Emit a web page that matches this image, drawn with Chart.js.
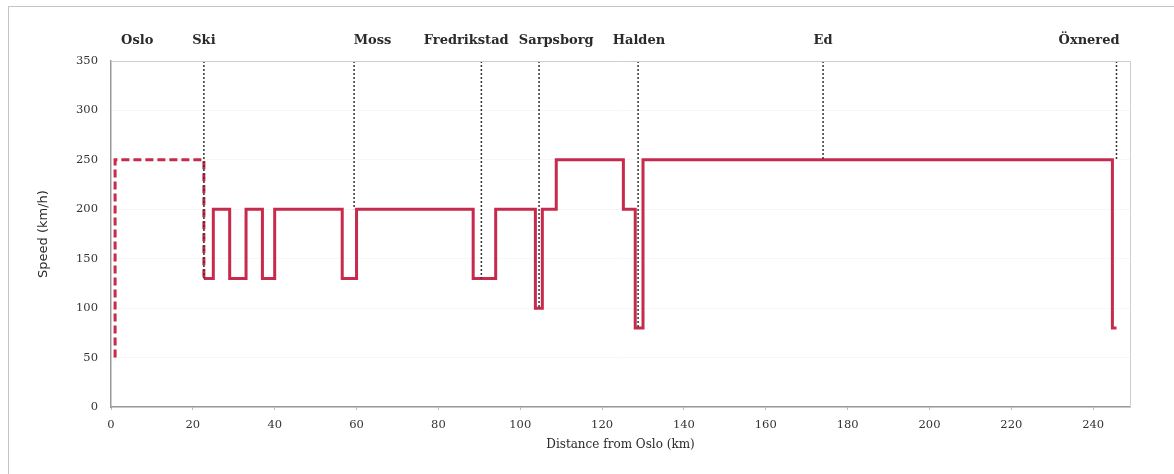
<!DOCTYPE html>
<html>
<head>
<meta charset="utf-8">
<script src="https://cdn.jsdelivr.net/npm/chart.js@4/dist/chart.umd.min.js"></script>
<style>
  html, body { margin: 0; padding: 0; background: #fff; }
  #wrap { position: relative; width: 1174px; height: 474px; overflow: hidden; }
  #frame { position: absolute; left: 8px; top: 6px; width: 1200px; height: 500px;
           border-left: 1px solid #c4c4c4; border-top: 1px solid #c4c4c4; }
  canvas { position: absolute; left: 0; top: 0; }
</style>
</head>
<body>
<div id="wrap">
  <div id="frame"></div>
  <canvas id="ctx" width="1174" height="474"></canvas>
</div>
<script>
"use strict";
// dashed approach out of Oslo (km, speed from that point)
const approachKm = [1, 1, 22.7];
const approachSpeed = [50, 250, 130];

// speed profile, each speed holds until the next km mark
const profileKm = [22.7, 25, 29, 33, 37, 40, 56.5, 60, 88.5, 94, 103.7, 105.4, 108.8, 125.2, 128.1, 130, 244.7, 245.7];
const profileSpeed = [130, 200, 130, 200, 130, 200, 130, 200, 130, 200, 100, 200, 250, 200, 80, 250, 80, 80];

// stations
const stationNames = ["Oslo", "Ski", "Moss", "Fredrikstad", "Sarpsborg", "Halden", "Ed", "Öxnered"];
const stationKm = [null, 22.7, 59.4, 90.5, 104.6, 128.8, 174, 245.7];
const stationLineEnd = [null, 130, 200, 130, 100, 80, 250, 250];
const labelKm = [6.4, 22.7, 63.9, 86.8, 108.8, 129, 174, 239];

const yTicks = [0, 50, 100, 150, 200, 250, 300, 350];
const xTicks = [0, 20, 40, 60, 80, 100, 120, 140, 160, 180, 200, 220, 240];

const red = "#c62a4c";
const serif = "'DejaVu Serif', 'Liberation Serif', serif";

let datasets = [];
datasets.push({
  data: approachKm.map((km, i) => ({ x: km, y: approachSpeed[i] })),
  borderColor: red,
  borderWidth: 3,
  borderDash: [8, 4],
  stepped: true,
  showLine: true,
  pointRadius: 0,
  order: 2,
});
datasets.push({
  data: profileKm.map((km, i) => ({ x: km, y: profileSpeed[i] })),
  borderColor: red,
  borderWidth: 3,
  stepped: true,
  showLine: true,
  pointRadius: 0,
  order: 2,
});
stationKm.forEach((km, i) => {
  if (km == null) return;
  datasets.push({
    data: [{ x: km, y: 350 }, { x: km, y: stationLineEnd[i] }],
    borderColor: "#333",
    borderWidth: 1.5,
    borderDash: [2, 2],
    showLine: true,
    pointRadius: 0,
    order: 1,
  });
});

const stationLabels = {
  id: "stationLabels",
  afterDraw(chart) {
    const c = chart.ctx;
    const xs = chart.scales.x;
    c.save();
    // plot box top and right edges
    const a = chart.chartArea;
    c.strokeStyle = "#cfcfcf";
    c.lineWidth = 1;
    c.beginPath();
    c.moveTo(a.left, a.top + 0.5);
    c.lineTo(a.right + 0.5, a.top + 0.5);
    c.lineTo(a.right + 0.5, a.bottom);
    c.stroke();
    c.fillStyle = "#2a2a2a";
    c.font = "bold 13px " + serif;
    c.textAlign = "center";
    c.textBaseline = "middle";
    stationNames.forEach((name, i) => {
      c.fillText(name, xs.getPixelForValue(labelKm[i]), 41);
    });
    c.restore();
  },
};

const ctx = document.getElementById("ctx").getContext("2d");
const myChart = new Chart(ctx, {
  type: "scatter",
  data: { datasets: datasets },
  plugins: [stationLabels],
  options: {
    responsive: false,
    animation: false,
    layout: { padding: { top: 61, right: 44, left: 0, bottom: 18 } },
    plugins: { legend: { display: false }, tooltip: { enabled: false } },
    scales: {
      x: {
        type: "linear",
        min: 0,
        max: 249,
        afterBuildTicks: (s) => { s.ticks = xTicks.map((v) => ({ value: v })); },
        afterFit: (s) => { s.height = 49; },
        border: { color: "#9a9a9a", width: 1.5 },
        grid: { drawOnChartArea: false, drawTicks: true, tickLength: 3, color: "#bbb" },
        ticks: { color: "#333", font: { family: serif, size: 11.5 }, padding: 8 },
        title: {
          display: true,
          text: "Distance from Oslo (km)",
          color: "#2a2a2a",
          font: { family: serif, size: 12 },
          padding: { top: 2 },
        },
      },
      y: {
        min: 0,
        max: 350,
        afterBuildTicks: (s) => { s.ticks = yTicks.map((v) => ({ value: v })); },
        afterFit: (s) => { s.width = 111; },
        border: { color: "#9a9a9a", width: 1.5 },
        grid: { color: "rgba(0,0,0,0.03)", drawTicks: true, tickLength: 3 },
        ticks: { color: "#333", font: { family: serif, size: 11.5 }, padding: 10 },
        title: {
          display: true,
          text: "Speed (km/h)",
          color: "#2a2a2a",
          font: { family: "'DejaVu Sans', sans-serif", size: 13 },
          padding: { top: 36, bottom: 14 },
        },
      },
    },
  },
});
</script>
</body>
</html>
